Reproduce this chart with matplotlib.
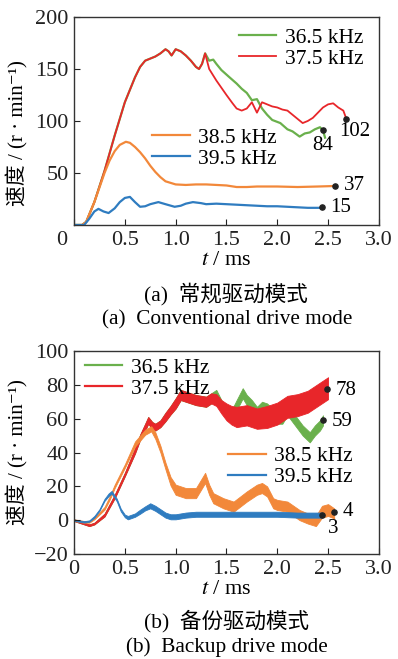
import numpy as np
import matplotlib
matplotlib.use("Agg")
import matplotlib.pyplot as plt
import matplotlib.transforms as mtransforms

plt.rcParams['font.family'] = ['Liberation Serif', 'Noto Sans CJK SC', 'DejaVu Sans']
plt.rcParams['mathtext.fontset'] = 'stix'

# ---------------- (a) conventional drive mode ----------------
# shared rise of 36.5 / 37.5 kHz
t_rise = [0, 0.08, 0.12, 0.2, 0.3, 0.4, 0.5, 0.6, 0.65, 0.7, 0.8, 0.85, 0.9, 0.93,
          0.96, 1.0, 1.05, 1.1, 1.15, 1.2, 1.23, 1.26, 1.29]
v_rise = [0, 0, 3, 22, 52, 86, 118, 142, 152, 158, 162, 165, 169, 167,
          163, 169, 167, 163, 158, 152, 150, 155, 165]

t_a_red = [1.33, 1.4, 1.5, 1.56, 1.6, 1.65, 1.7, 1.75, 1.8, 1.85, 1.9, 1.95, 2.0, 2.05,
           2.1, 2.15, 2.2, 2.25, 2.3, 2.35, 2.4, 2.45, 2.5, 2.55, 2.6, 2.65, 2.68]
v_a_red = [150, 139, 125, 117, 112, 110, 112, 118, 108, 118, 116, 114, 113, 111,
           110, 106, 102, 98, 100, 103, 108, 113, 116, 117, 113, 110, 102]

t_a_green = [1.33, 1.37, 1.4, 1.45, 1.53, 1.6, 1.65, 1.7, 1.75, 1.8, 1.85, 1.9, 1.95,
             2.03, 2.1, 2.15, 2.22, 2.27, 2.32, 2.37, 2.42, 2.45, 2.47]
v_a_green = [158, 159, 155, 149, 142, 136, 131, 127, 120, 121, 112, 106, 101,
             98, 92, 90, 85, 88, 89, 92, 94, 91, 84]

t_a_orange = [0, 0.08, 0.12, 0.2, 0.3, 0.35, 0.4, 0.45, 0.51, 0.55, 0.6, 0.65, 0.7, 0.75,
              0.8, 0.85, 0.9, 1.0, 1.1, 1.2, 1.3, 1.4, 1.5, 1.6, 1.7, 1.8, 2.0, 2.2, 2.4, 2.57]
v_a_orange = [0, 0, 3, 22, 50, 62, 71, 77, 80, 79, 75, 70, 64, 57,
              51, 46, 42, 39, 38.5, 39, 39, 38.5, 38, 36.5, 36.5, 37, 37, 36.5, 37, 37.5]

t_a_blue = [0, 0.1, 0.15, 0.2, 0.24, 0.29, 0.34, 0.4, 0.45, 0.5, 0.55, 0.6, 0.65, 0.7,
            0.75, 0.83, 0.9, 0.99, 1.05, 1.1, 1.17, 1.25, 1.3, 1.4, 1.5, 1.6, 1.7, 1.8,
            1.9, 2.0, 2.1, 2.2, 2.3, 2.44]
v_a_blue = [0, 0, 6, 13, 15.5, 13, 11.5, 16, 22, 26, 27, 22, 17.5, 18,
            20, 22, 20, 17.5, 18.5, 20.5, 22, 21, 20, 20.5, 20, 19.5, 19, 18.5,
            18, 18, 17.5, 17, 16.5, 16.5]

a_dots_t = [2.45, 2.68, 2.57, 2.44]
a_dots_v = [91, 102, 37.5, 17]
a_labels = ['84', '102', '37', '15']

# ---------------- (b) backup drive mode ----------------
t_b_red = [0, 0.1, 0.15, 0.2, 0.3, 0.4, 0.5, 0.6, 0.65, 0.7, 0.73, 0.77, 0.8, 0.85, 0.9,
           0.95, 1.0, 1.05, 1.1, 1.2, 1.3, 1.35, 1.4, 1.45, 1.5, 1.55, 1.6, 1.7, 1.8,
           1.9, 2.0, 2.1, 2.2, 2.3, 2.4, 2.45, 2.5]
v_b_red = [0, -2, -3, -2, 3, 14, 27, 41, 49, 55, 59, 56, 55, 57, 61,
           65, 69, 74, 73, 71, 70, 72, 71, 67, 64, 62, 61, 62, 60,
           61, 63, 67, 68, 70, 74, 76, 78]
w_b_red = [0.5, 0.5, 0.5, 0.5, 0.8, 1, 1, 1.5, 1.5, 2, 2, 2, 2, 2, 2.5,
           2.5, 3, 3, 3, 3, 3, 3, 3.5, 4, 5, 5.5, 6, 6, 6,
           6.5, 6.5, 6.5, 6.5, 6.5, 6.5, 6.5, 6.5]

t_b_green = [1.4, 1.45, 1.5, 1.55, 1.6, 1.66, 1.7, 1.75, 1.8, 1.85, 1.9, 1.95, 2.0,
             2.05, 2.1, 2.15, 2.2, 2.25, 2.32, 2.37, 2.42, 2.45]
v_b_green = [74, 68, 63, 62, 68, 75, 71, 68, 64, 67, 66, 63, 60,
             60, 65, 61, 57, 53, 49, 53, 56, 59]
w_b_green = [3] * len(t_b_green)

t_b_orange = [0, 0.1, 0.15, 0.2, 0.3, 0.35, 0.4, 0.5, 0.6, 0.7, 0.76, 0.8, 0.85, 0.9,
              0.95, 1.0, 1.1, 1.2, 1.25, 1.29, 1.33, 1.37, 1.47, 1.57, 1.7, 1.8, 1.85,
              1.9, 1.96, 2.0, 2.1, 2.22, 2.3, 2.38, 2.44, 2.5, 2.56]
v_b_orange = [0, -1, -1, 1, 7, 13, 20, 32, 45, 52, 54, 50, 42, 32,
              23, 18, 16, 16, 21, 25, 18, 13, 10, 8, 14, 18, 19,
              17, 10, 9, 8, 3, 1, -0.5, 5, 6, 4]
w_b_orange = [0.5, 0.5, 0.5, 0.5, 0.8, 1, 1, 1, 1.5, 1.5, 1.5, 2, 2, 2,
              2.5, 3, 3, 3, 3, 3, 3, 3, 3, 3, 3, 3, 3,
              3, 3, 3, 3, 3, 3, 3, 3.5, 3.5, 3]

t_b_blue = [0, 0.1, 0.15, 0.2, 0.25, 0.3, 0.34, 0.37, 0.42, 0.46, 0.5, 0.53, 0.6, 0.65,
            0.7, 0.75, 0.8, 0.85, 0.9, 0.95, 1.0, 1.1, 1.2, 1.4, 1.6, 1.8, 2.0, 2.2, 2.44]
v_b_blue = [0, -1, -0.5, 2, 6, 12, 15, 16.5, 12, 6, 2.5, 1.5, 3, 5,
            7, 8.5, 7, 5, 3, 2, 2, 3, 3.5, 3.5, 3.5, 3.5, 3.5, 3, 3]
w_b_blue = [0.4, 0.4, 0.4, 0.5, 0.5, 0.6, 0.8, 0.8, 0.8, 0.8, 0.8, 1, 1, 1.2,
            1.2, 1.5, 1.5, 1.5, 1.5, 1.5, 1.5, 1.5, 1.5, 1.5, 1.5, 1.5, 1.5, 1.5, 1.5]

b_dots_t = [2.49, 2.45, 2.44, 2.56]
b_dots_v = [77.5, 59, 3, 5]
b_labels = ['78', '59', '3', '4']

c_green = '#6ab04c'
c_red = '#e8262a'
c_orange = '#f2883a'
c_blue = '#2f7cc0'

fig = plt.figure(figsize=(3.98, 6.59), dpi=100)
ax1 = fig.add_axes([0.186, 0.6586, 0.766, 0.3156])
ax2 = fig.add_axes([0.186, 0.1593, 0.766, 0.3081])

leg_kw = dict(frameon=False, fontsize=15.5, handlelength=1.75, labelspacing=0.05,
              handletextpad=0.4, borderaxespad=0.3, borderpad=0.2)

# (a)
g_t = np.concatenate([t_rise, t_a_green])
g_v = np.concatenate([v_rise, v_a_green])
r_t = np.concatenate([t_rise, t_a_red])
r_v = np.concatenate([v_rise, v_a_red])
lg, = ax1.plot(g_t, g_v, color=c_green, lw=1.6)
lr, = ax1.plot(r_t, r_v, color=c_red, lw=1.3)
lo, = ax1.plot(t_a_orange, v_a_orange, color=c_orange, lw=1.6)
lb, = ax1.plot(t_a_blue, v_a_blue, color=c_blue, lw=1.6)
ax1.scatter(a_dots_t, a_dots_v, s=14, color='#222222', zorder=5)
offs_a = [(0, -11), (6, -9), (6, 0), (6, 0)]
ha_a = ['center', 'center', 'left', 'left']
for x, y, s, o, h in zip(a_dots_t, a_dots_v, a_labels, offs_a, ha_a):
    ax1.annotate(s, (x, y), xytext=o, textcoords='offset points', fontsize=15,
                 ha=h, va='center')
leg1 = ax1.legend([lg, lr], ['36.5 kHz', '37.5 kHz'], loc='upper right',
                  bbox_to_anchor=(0.985, 1.0), **leg_kw)
ax1.add_artist(leg1)
ax1.legend([lo, lb], ['38.5 kHz', '39.5 kHz'], loc='upper left',
           bbox_to_anchor=(0.22, 0.52), **leg_kw)
ax1.set_xlim(0, 3.0)
ax1.set_ylim(0, 200)
ax1.set_xticks([0, 0.5, 1.0, 1.5, 2.0, 2.5, 3.0])
ax1.set_xticklabels(['0', '0.5', '1.0', '1.5', '2.0', '2.5', '3.0'])
ax1.set_yticks([50, 100, 150, 200])

# (b)
ax2.fill_between(np.concatenate([t_b_red[:22], t_b_green]),
                 np.concatenate([v_b_red[:22], v_b_green]) - np.concatenate([w_b_red[:22], w_b_green]),
                 np.concatenate([v_b_red[:22], v_b_green]) + np.concatenate([w_b_red[:22], w_b_green]),
                 color=c_green, lw=0.6, edgecolor=c_green)
ax2.fill_between(t_b_red, np.array(v_b_red) - np.array(w_b_red),
                 np.array(v_b_red) + np.array(w_b_red), color=c_red, lw=0.6, edgecolor=c_red)
ax2.fill_between(t_b_orange, np.array(v_b_orange) - np.array(w_b_orange),
                 np.array(v_b_orange) + np.array(w_b_orange), color=c_orange, lw=0.6,
                 edgecolor=c_orange)
ax2.fill_between(t_b_blue, np.array(v_b_blue) - np.array(w_b_blue),
                 np.array(v_b_blue) + np.array(w_b_blue), color=c_blue, lw=0.6, edgecolor=c_blue)
hg, = ax2.plot([], [], color=c_green, lw=1.6)
hr, = ax2.plot([], [], color=c_red, lw=1.6)
ho, = ax2.plot([], [], color=c_orange, lw=1.6)
hb, = ax2.plot([], [], color=c_blue, lw=1.6)
ax2.scatter(b_dots_t, b_dots_v, s=14, color='#222222', zorder=5)
offs_b = [(6, -1), (6, -1), (8, -10), (6, 0)]
ha_b = ['left', 'left', 'center', 'left']
for x, y, s, o, h in zip(b_dots_t, b_dots_v, b_labels, offs_b, ha_b):
    ax2.annotate(s, (x, y), xytext=o, textcoords='offset points', fontsize=15,
                 ha=h, va='center')
leg2 = ax2.legend([hg, hr], ['36.5 kHz', '37.5 kHz'], loc='upper left',
                  bbox_to_anchor=(0.0, 1.02), **leg_kw)
ax2.add_artist(leg2)
ax2.legend([ho, hb], ['38.5 kHz', '39.5 kHz'], loc='upper left',
           bbox_to_anchor=(0.47, 0.585), **leg_kw)
ax2.set_xlim(0, 3.0)
ax2.set_ylim(-20, 100)
ax2.set_xticks([0, 0.5, 1.0, 1.5, 2.0, 2.5, 3.0])
ax2.set_xticklabels(['0', '0.5', '1.0', '1.5', '2.0', '2.5', '3.0'])
ax2.set_yticks([-20, 0, 20, 40, 60, 80, 100])
ax2.set_yticklabels(['\u221220', '0', '20', '40', '60', '80', '100'])

for ax in (ax1, ax2):
    ax.tick_params(direction='in', length=4, width=0.8, labelsize=16, pad=4,
                   colors='#222222')
    for sp in ax.spines.values():
        sp.set_color('#333333')
        sp.set_linewidth(1.0)
    ax.set_xlabel('$t$ / ms', fontsize=16, labelpad=1)
    ax.set_ylabel('速度 / (r · min\u207b\u00b9)', fontsize=15)
    ax.yaxis.set_label_coords(-0.15, 0.5)
ax1.yaxis.set_label_coords(-0.15, 0.44)

# origin label of (a) sits a bit left of the axis
lab0 = ax1.get_xticklabels()[0]
lab0.set_transform(lab0.get_transform() +
                   mtransforms.ScaledTranslation(-12 / 100, 0, fig.dpi_scale_trans))

fig.text(226 / 398, 0.554, '(a)  常规驱动模式', ha='center', va='center', fontsize=15.5)
fig.text(227 / 398, 0.514, '(a)  Conventional drive mode', ha='center', va='center', fontsize=15.3)
fig.text(226 / 398, 0.0577, '(b)  备份驱动模式', ha='center', va='center', fontsize=15.5)
fig.text(227 / 398, 0.018, '(b)  Backup drive mode', ha='center', va='center', fontsize=15.3)

fig.savefig('out.png', dpi=100)
